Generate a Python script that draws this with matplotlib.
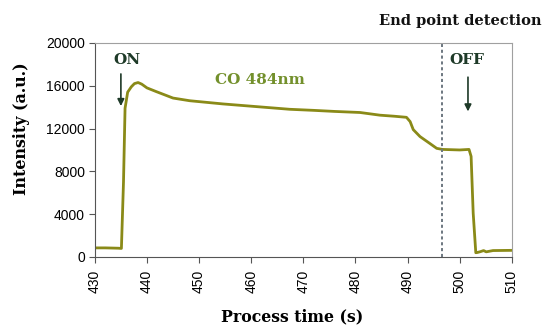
import matplotlib
matplotlib.use("Agg")
import matplotlib.pyplot as plt

time_s = [430, 432, 434.5, 435.1, 435.5, 435.8, 436.3, 437.0, 437.6, 438.3, 439.0,
          440.0, 441.8, 445.0, 448.2, 454.6, 461.0, 467.4, 472.0, 476.0, 480.9,
          484.7, 487.5, 489.8, 490.5, 491.1, 492.4, 494.3, 495.6, 496.7, 500.0,
          501.8, 502.2, 502.6, 503.1, 503.4, 504.0, 504.6, 505.1, 506.4, 510.0]
intensity = [850, 850, 820, 800, 7000, 13900, 15400, 15900, 16200, 16300, 16150,
             15800, 15450, 14850, 14600, 14300, 14050, 13800, 13700, 13600, 13500,
             13250, 13150, 13050, 12650, 11900, 11250, 10600, 10150, 10050, 10000,
             10050, 9400, 4100, 400, 420, 500, 600, 480, 600, 620]

x_ticks = [430, 440, 450, 460, 470, 480, 490, 500, 510]
y_ticks = [0, 4000, 8000, 12000, 16000, 20000]
end_point = 496.7

fig = plt.figure(figsize=(5.45, 3.26), dpi=100)
ax = fig.add_axes([0.174, 0.2117, 0.765, 0.6566])

ax.plot(time_s, intensity, color='#8a8a18', lw=2.0, solid_joinstyle='round')
ax.axvline(end_point, color='#6d7780', ls=(0, (1.6, 1.4)), lw=1.4)

ax.set_xlim(430, 510)
ax.set_ylim(0, 20000)
ax.set_xticks(x_ticks)
ax.set_yticks(y_ticks)
ax.set_xticklabels([str(v) for v in x_ticks], rotation=90, fontsize=10,
                   family='Liberation Sans')
ax.set_yticklabels([str(v) for v in y_ticks], fontsize=10, family='Liberation Sans')
ax.tick_params(length=4, color='#555555', pad=3)
ax.tick_params(axis='x', pad=5)

for s in ['top', 'right']:
    ax.spines[s].set_color('#a0a0a0')
for s in ['left', 'bottom']:
    ax.spines[s].set_color('#555555')

fig.text(0.536, 0.028, 'Process time (s)', ha='center', va='center',
         family='DejaVu Serif', fontweight='bold', fontsize=11.3)
fig.text(0.040, 0.605, 'Intensity (a.u.)', ha='center', va='center', rotation=90,
         family='DejaVu Serif', fontweight='bold', fontsize=11.4)

dark_green = '#1e3a28'
ax.text(436.2, 18400, 'ON', ha='center', va='center', family='DejaVu Serif',
        fontweight='bold', fontsize=11, color=dark_green)
ax.annotate('', xy=(435.0, 14100), xytext=(435.0, 17100),
            arrowprops=dict(arrowstyle='-|>', color=dark_green, lw=1.2,
                            mutation_scale=10, shrinkA=0, shrinkB=0))
ax.text(501.4, 18400, 'OFF', ha='center', va='center', family='DejaVu Serif',
        fontweight='bold', fontsize=11, color=dark_green)
ax.annotate('', xy=(501.6, 13600), xytext=(501.6, 16800),
            arrowprops=dict(arrowstyle='-|>', color=dark_green, lw=1.2,
                            mutation_scale=10, shrinkA=0, shrinkB=0))
ax.text(461.7, 16500, 'CO 484nm', ha='center', va='center', family='DejaVu Serif',
        fontweight='bold', fontsize=11, color='#73902c')

fig.text(0.845, 0.935, 'End point detection', ha='center', va='center',
         family='DejaVu Serif', fontweight='bold', fontsize=10.5, color='#111111')

fig.savefig('out.png', dpi=100)
